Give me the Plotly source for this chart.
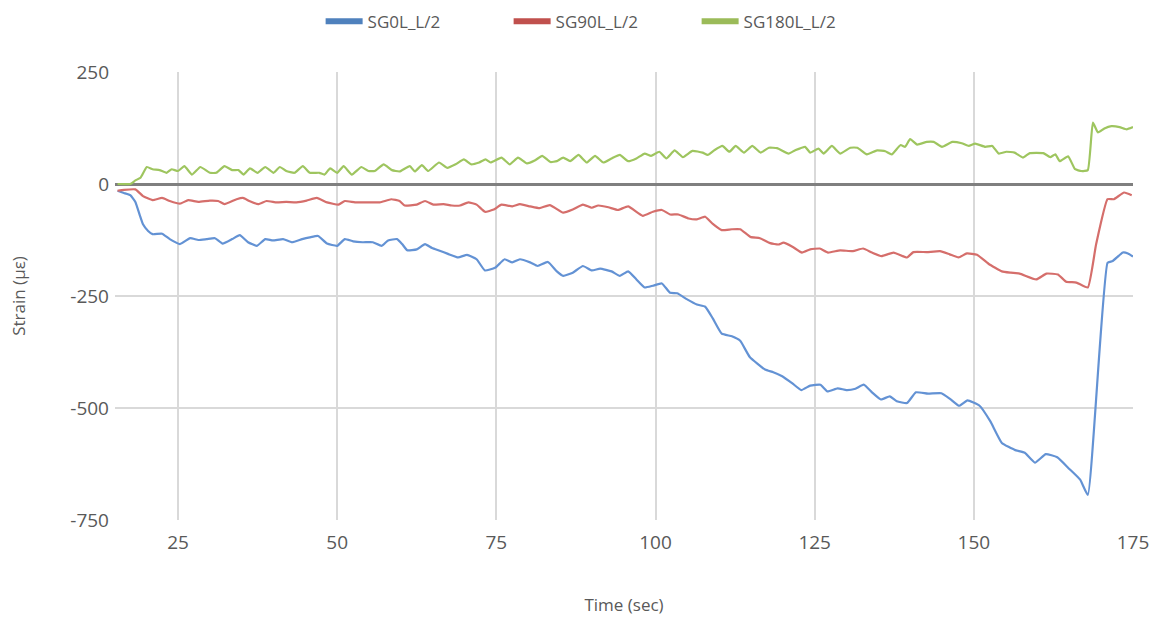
import plotly.graph_objects as go

# ---- data -------------------------------------------------------------
series_names = ["SG0L_L/2", "SG90L_L/2", "SG180L_L/2"]

t_sg0 = [15.5, 16.5, 17.5, 18.3, 19.0, 19.5, 20.3, 21.0, 22.5, 23.7, 25.3, 26.9, 28.2, 29.5,
         30.8, 32.0, 33.5, 34.7, 36.0, 37.4, 38.7, 39.9, 41.5, 42.9, 44.5, 45.7, 47.0, 48.4,
         50.0, 51.2, 52.5, 54.0, 55.6, 57.0, 58.0, 59.4, 60.2, 61.0, 62.5, 63.8, 64.9, 66.1,
         67.4, 69.0, 70.4, 71.9, 73.2, 74.8, 76.3, 77.5, 78.7, 80.3, 81.5, 83.1, 84.5, 85.5,
         87.0, 88.6, 90.0, 91.3, 93.1, 94.4, 95.7, 97.0, 98.3, 99.6, 101.0, 102.3, 103.4,
         104.9, 106.5, 107.8, 109.0, 110.4, 112.0, 113.3, 114.8, 117.2, 118.5, 119.9, 121.5,
         122.9, 124.3, 125.9, 127.0, 128.6, 130.0, 131.4, 132.7, 134.0, 135.4, 136.8, 137.9,
         139.5, 140.9, 142.8, 144.9, 146.3, 147.7, 149.0, 150.9, 152.6, 154.4, 156.5, 158.0,
         159.6, 161.3, 163.1, 165.0, 166.7, 167.9, 171.0, 171.8, 173.4, 174.2, 175.0]
v_sg0 = [-15, -20, -25, -40, -70, -90, -105, -112, -111, -123, -134, -121, -125, -123,
         -121, -133, -123, -114, -130, -138, -123, -126, -123, -130, -123, -119, -116, -133,
         -138, -123, -128, -130, -130, -138, -126, -123, -134, -148, -146, -134, -143, -149,
         -156, -164, -158, -168, -193, -187, -168, -175, -168, -175, -183, -174, -195, -205,
         -198, -183, -193, -189, -195, -205, -195, -213, -231, -227, -222, -243, -244,
         -257, -269, -274, -300, -334, -340, -350, -386, -414, -420, -429, -445,
         -460, -450, -448, -463, -456, -460, -457, -448, -465, -481, -474, -485,
         -489, -465, -468, -467, -480, -495, -483, -495, -530, -578, -594, -600,
         -622, -603, -610, -636, -660, -694, -176, -172, -153, -155, -162]

t_sg90 = [15.5, 16.5, 18.3, 19.5, 21.0, 22.5, 23.7, 25.3, 26.6, 28.2, 30.0, 31.3, 32.3, 34.2,
          35.2, 36.2, 37.6, 38.9, 40.5, 42.0, 43.6, 45.2, 46.8, 48.4, 50.2, 51.2, 52.8, 54.6,
          56.7, 58.5, 59.8, 60.6, 62.5, 63.8, 65.1, 66.7, 68.0, 69.3, 70.6, 71.9, 73.2, 74.6,
          75.8, 77.5, 78.7, 80.3, 81.8, 83.4, 85.5, 87.0, 88.6, 90.0, 91.0, 92.6, 94.1, 95.7,
          98.0, 99.6, 101.0, 102.3, 103.6, 105.2, 106.5, 107.8, 109.0, 110.4, 112.0, 113.3,
          114.9, 116.4, 118.0, 119.3, 120.1, 121.5, 123.0, 124.3, 125.8, 127.1, 129.0, 131.0,
          132.6, 134.0, 135.5, 137.4, 139.5, 140.5, 142.6, 144.7, 146.2, 147.6, 148.9, 150.5,
          152.3, 154.4, 155.8, 157.2, 159.8, 161.4, 163.2, 164.5, 166.1, 167.9, 169.2, 171.0,
          172.0, 173.6, 174.8]
v_sg90 = [-15, -13, -12, -27, -36, -31, -38, -44, -36, -40, -37, -38, -45, -34,
          -31, -38, -45, -38, -41, -40, -41, -37, -31, -41, -46, -38, -41, -41,
          -41, -34, -38, -48, -46, -38, -46, -45, -48, -48, -41, -46, -62, -57,
          -46, -50, -45, -50, -54, -47, -64, -57, -46, -53, -48, -52, -58, -50,
          -71, -62, -58, -68, -68, -77, -79, -73, -89, -103, -101, -101,
          -118, -121, -132, -135, -131, -140, -153, -146, -144, -153, -148, -150,
          -144, -153, -161, -153, -164, -152, -152, -150, -157, -164, -155, -158,
          -178, -195, -198, -200, -213, -200, -202, -218, -220, -231, -135, -34,
          -34, -19, -25]

t_sg180 = [15.5, 17.5, 18.3, 19.1, 20.1, 21.0, 22.1, 23.2, 24.0, 25.0, 26.0, 27.2, 28.5, 30.0,
           31.0, 32.3, 33.5, 34.5, 35.3, 36.3, 37.5, 38.7, 40.0, 41.0, 42.0, 43.3, 44.6, 45.7,
           47.2, 48.0, 48.9, 50.0, 51.0, 52.3, 53.8, 54.9, 55.9, 57.3, 58.6, 59.8, 61.4, 62.2,
           63.3, 64.3, 66.0, 67.3, 68.6, 69.9, 71.0, 72.3, 73.3, 74.1, 75.8, 77.1, 78.4, 79.8,
           81.1, 82.2, 83.5, 84.5, 85.5, 86.6, 87.9, 89.2, 90.5, 91.8, 93.1, 94.4, 95.7, 97.0,
           98.3, 99.3, 100.6, 101.7, 103.0, 104.3, 105.8, 107.4, 108.2, 109.2, 110.5, 111.6,
           112.6, 113.9, 115.2, 116.5, 117.8, 119.1, 120.9, 121.9, 123.5, 124.3, 125.6, 126.4,
           127.7, 129.0, 130.6, 131.7, 133.2, 134.8, 136.1, 137.1, 138.5, 139.2, 140.0, 141.1,
           142.6, 143.7, 145.0, 146.6, 148.1, 149.2, 150.2, 151.8, 152.9, 153.9, 155.1, 156.4,
           157.7, 158.8, 160.9, 162.0, 162.8, 163.5, 164.8, 165.9, 166.9, 167.9, 168.7, 169.5,
           170.5, 171.6, 172.9, 174.0, 175.0]
v_sg180 = [0, 0, 8, 14, 38, 33, 31, 25, 33, 29, 40, 21, 38, 25,
           25, 40, 31, 31, 21, 35, 25, 38, 25, 38, 29, 25, 40, 25,
           25, 21, 35, 25, 40, 21, 38, 29, 29, 44, 31, 28, 40, 28,
           42, 29, 48, 36, 44, 55, 44, 48, 55, 48, 59, 44, 59, 46,
           53, 63, 49, 51, 59, 51, 65, 48, 63, 48, 57, 65, 51, 57,
           68, 63, 72, 57, 75, 60, 74, 70, 65, 75, 85, 72,
           85, 70, 85, 70, 81, 80, 68, 75, 83, 70, 79, 68,
           85, 68, 81, 81, 66, 75, 73, 66, 87, 83, 100, 88,
           94, 94, 83, 94, 91, 85, 90, 83, 85, 68, 72, 70,
           59, 69, 69, 60, 66, 51, 62, 33, 29, 31, 137, 115,
           124, 129, 127, 122, 127]

x_ticks = [25, 50, 75, 100, 125, 150, 175]
y_ticks = [-750, -500, -250, 0, 250]
y_tick_labels = ["-750", "-500", "-250", "0", "250"]

# ---- styling ----------------------------------------------------------
line_colors = ["#6392d4", "#d56e6b", "#9ec55f"]
swatch_colors = ["#4f81bd", "#c0504d", "#9bbb59"]
font_family = "Open Sans, Noto Sans, sans-serif"
text_color = "#595959"

fig = go.Figure()

for name, xs, ys, lc, sc in zip(series_names,
                               [t_sg0, t_sg90, t_sg180],
                               [v_sg0, v_sg90, v_sg180],
                               line_colors, swatch_colors):
    fig.add_trace(go.Scatter(
        x=xs, y=ys, mode="lines", name=name, legendgroup=name,
        showlegend=False,
        line=dict(color=lc, width=2.2, shape="spline", smoothing=0.4),
    ))
    # legend entry with a thicker swatch
    fig.add_trace(go.Scatter(
        x=[None], y=[None], mode="lines", name=name, legendgroup=name,
        line=dict(color=sc, width=6),
    ))

fig.update_layout(
    width=1160, height=617,
    margin=dict(l=115, r=27, t=72, b=97, autoexpand=False),
    paper_bgcolor="white", plot_bgcolor="white",
    font=dict(family=font_family, size=18, color=text_color),
    showlegend=True,
    legend=dict(
        orientation="h", x=0.479, xanchor="center", y=1.112, yanchor="middle",
        font=dict(size=17, color=text_color),
        itemwidth=37, entrywidth=136, entrywidthmode="pixels",
        bgcolor="rgba(0,0,0,0)",
    ),
)

fig.update_xaxes(
    range=[15.1, 175], tickvals=x_ticks,
    showgrid=True, gridcolor="#d9d9d9", gridwidth=1.6,
    zeroline=False, showline=False, ticks="",
    ticklabelstandoff=9,
    tickfont=dict(size=19, color=text_color),
    title=dict(text="Time (sec)", font=dict(size=17, color=text_color), standoff=45),
)

fig.update_yaxes(
    range=[-750, 250], tickvals=y_ticks, ticktext=y_tick_labels,
    showgrid=True, gridcolor="#d9d9d9", gridwidth=1.6,
    zeroline=True, zerolinecolor="#7f7f7f", zerolinewidth=2.6,
    showline=False, ticks="",
    ticklabelstandoff=5,
    tickfont=dict(size=19, color=text_color),
    title=dict(text="Strain (με)", font=dict(size=17, color=text_color), standoff=40),
)

fig.write_html("out.html")
